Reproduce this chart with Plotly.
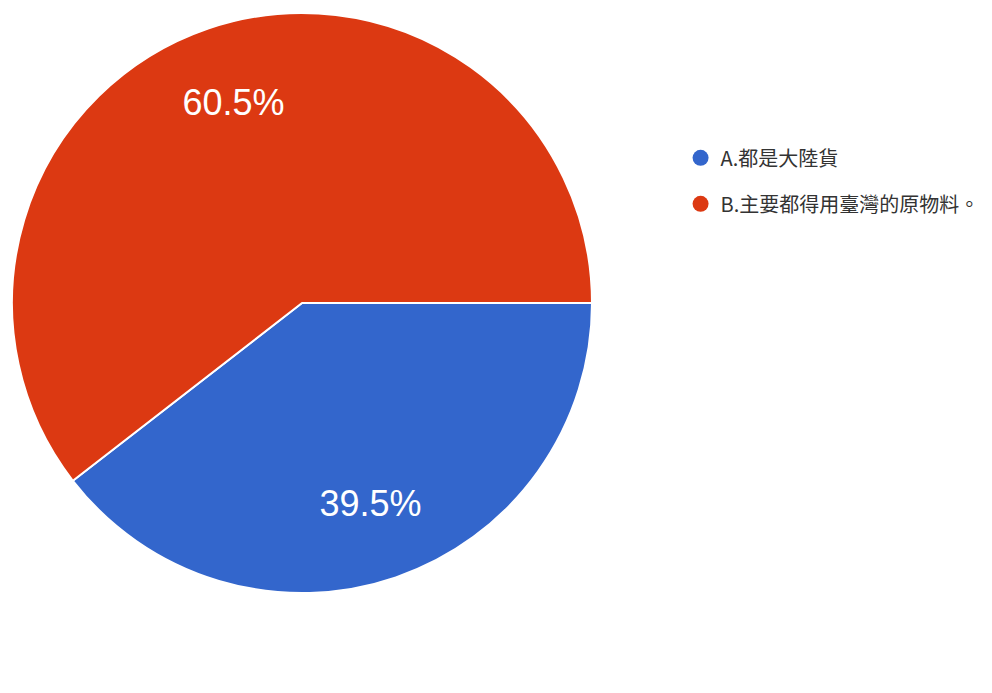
import plotly.graph_objects as go

labels = ["A.都是大陸貨", "B.主要都得用臺灣的原物料。"]
values = [39.5, 60.5]
colors = ["#3366CC", "#DC3912"]

pie_domain = dict(x=[4 / 992, 584 / 992], y=[108 / 693, 688 / 693])

fig = go.Figure()

# filled pie
fig.add_trace(go.Pie(
    labels=labels,
    values=values,
    sort=False,
    direction="clockwise",
    rotation=90,
    marker=dict(colors=colors, line=dict(color="white", width=2)),
    textinfo="none",
    domain=pie_domain,
    showlegend=False,
    hoverinfo="label+percent",
))

# transparent ring on top, only to place the percent labels further out
fig.add_trace(go.Pie(
    labels=labels,
    values=values,
    sort=False,
    direction="clockwise",
    rotation=90,
    hole=0.46,
    marker=dict(colors=["rgba(0,0,0,0)"] * 2, line=dict(width=0)),
    texttemplate="%{percent:.1%}",
    textposition="inside",
    insidetextorientation="horizontal",
    textfont=dict(color="white", size=36, family="Liberation Sans, Arial"),
    domain=pie_domain,
    showlegend=False,
    hoverinfo="skip",
))

# legend entries with round markers
for i, (lab, col) in enumerate(zip(labels, colors)):
    fig.add_trace(go.Scatter(
        x=[None], y=[None], mode="markers", name=lab,
        marker=dict(color=col, size=17, symbol="circle"),
        legendgroup=f"g{i}",
    ))

fig.update_layout(
    width=992, height=693,
    margin=dict(l=0, r=0, t=0, b=0),
    paper_bgcolor="white",
    plot_bgcolor="white",
    xaxis=dict(visible=False),
    yaxis=dict(visible=False),
    legend=dict(
        x=0.678, y=0.812, xanchor="left", yanchor="top",
        font=dict(size=20, color="#333333", family="Noto Sans CJK TC"),
        tracegroupgap=17,
        itemwidth=30,
        bgcolor="rgba(0,0,0,0)",
    ),
)

fig.write_html("out.html")
